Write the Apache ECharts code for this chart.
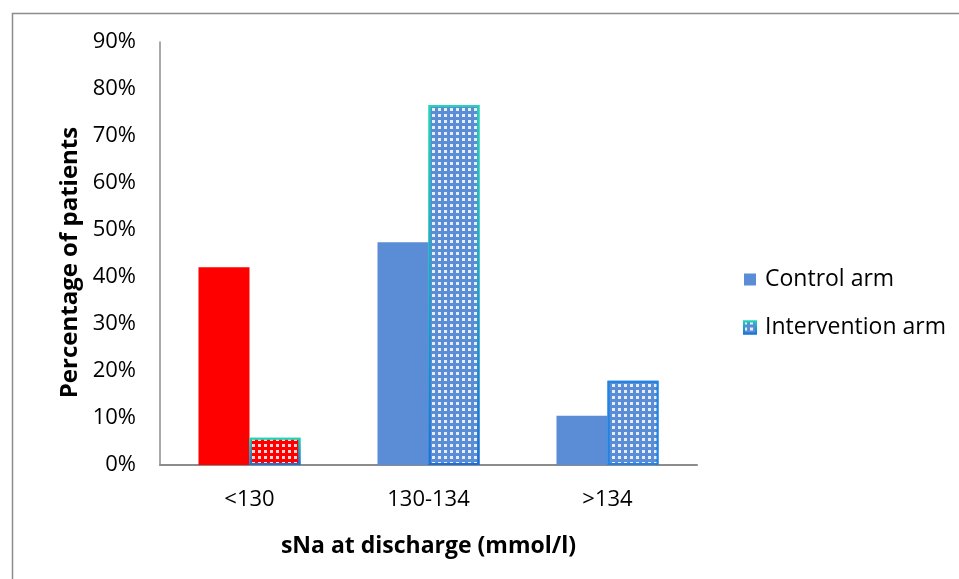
<!DOCTYPE html>
<html>
<head>
<meta charset="utf-8">
<script src="https://cdn.jsdelivr.net/npm/echarts@6/dist/echarts.min.js"></script>
<style>
  html, body { margin: 0; padding: 0; background: #fff; }
  #chart { width: 959px; height: 579px; }
</style>
</head>
<body>
<div id="chart"></div>
<script>
// Serum sodium at discharge, share of patients per arm
const categories = ['<130', '130-134', '>134'];
const controlArm = [42.1, 47.4, 10.5];
const interventionArm = [5.8, 76.6, 17.9];
const seriesNames = ['Control arm', 'Intervention arm'];

const FONT = '"Open Sans", "Noto Sans", sans-serif';
const RED = '#ff0000';
const BLUE = '#5a8dd6';

// dotted fill used for the intervention arm
const dots = {
  symbol: 'rect',
  symbolSize: 1,
  color: 'rgba(255,255,255,0.85)',
  dashArrayX: [2.6, 2.9],
  dashArrayY: [2.6, 2.9],
  rotation: 0
};

const tealToBlue = new echarts.graphic.LinearGradient(0, 0, 0, 1, [
  { offset: 0, color: '#22d6b2' },
  { offset: 1, color: '#1b6fd6' }
]);

const chart = echarts.init(document.getElementById('chart'), null, { renderer: 'canvas' });

chart.setOption({
  animation: false,
  backgroundColor: '#ffffff',
  aria: { enabled: true, decal: { show: true } },
  graphic: [{
    type: 'rect',
    shape: { x: 12.5, y: 13.5, width: 1000, height: 700 },
    style: { fill: 'none', stroke: '#8c8c8c', lineWidth: 1.5 },
    silent: true
  }],
  grid: { left: 160, top: 42, right: 262, bottom: 114, containLabel: false },
  legend: {
    orient: 'vertical',
    left: 738,
    top: 263,
    itemWidth: 12,
    itemHeight: 12,
    itemGap: 25,
    icon: 'rect',
    textStyle: { fontFamily: FONT, fontSize: 23, color: '#000', padding: [0, 0, 0, 4] },
    data: seriesNames
  },
  xAxis: {
    type: 'category',
    data: categories,
    name: 'sNa at discharge (mmol/l)',
    nameLocation: 'middle',
    nameGap: 70,
    nameTextStyle: { fontFamily: FONT, fontSize: 23, fontWeight: 'bold', color: '#000' },
    axisLine: { lineStyle: { color: '#8c8c8c', width: 2 } },
    axisTick: { show: false },
    axisLabel: { fontFamily: FONT, fontSize: 22, color: '#000', margin: 24 }
  },
  yAxis: {
    type: 'value',
    min: 0,
    max: 90,
    interval: 10,
    name: 'Percentage of patients',
    nameLocation: 'middle',
    nameGap: 76,
    nameTextStyle: { fontFamily: FONT, fontSize: 24, fontWeight: 'bold', color: '#000', padding: [0, 18, 0, 0] },
    axisLine: { show: true, lineStyle: { color: '#8c8c8c', width: 1.5 } },
    axisTick: { show: false },
    splitLine: { show: false },
    axisLabel: { fontFamily: FONT, fontSize: 22, color: '#000', margin: 24, formatter: '{value}%' }
  },
  series: [
    {
      name: seriesNames[0],
      type: 'bar',
      barGap: '0%',
      barCategoryGap: '43%',
      itemStyle: { color: BLUE, decal: { symbol: 'none' } },
      data: controlArm.map((v, i) => i === 0
        ? { value: v, itemStyle: { color: RED } }
        : v)
    },
    {
      name: seriesNames[1],
      type: 'bar',
      itemStyle: { color: BLUE, borderColor: tealToBlue, borderWidth: 2, decal: dots },
      data: interventionArm.map((v, i) => {
        if (i === 0) return { value: v, itemStyle: { color: RED, borderColor: tealToBlue, decal: dots } };
        if (i === 2) return { value: v, itemStyle: { borderColor: '#2283e2', decal: dots } };
        return v;
      })
    }
  ]
});
</script>
</body>
</html>
